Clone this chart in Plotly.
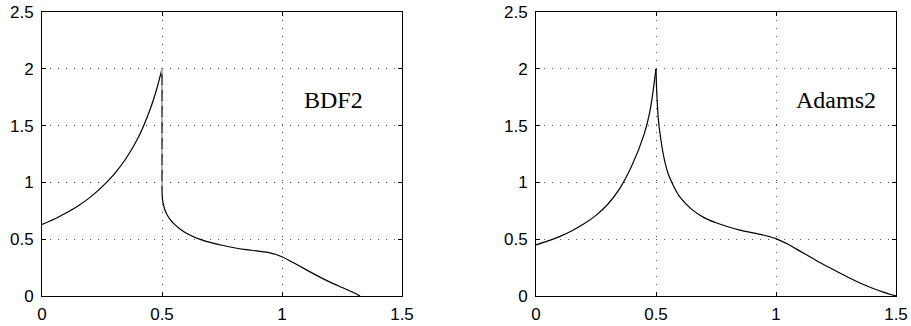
import plotly.graph_objects as go

# ---------------- data ----------------
x_tick_vals = [0, 0.5, 1, 1.5]
x_tick_text = ["0", "0.5", "1", "1.5"]
y_tick_vals = [0, 0.5, 1, 1.5, 2, 2.5]
y_tick_text = ["0", "0.5", "1", "1.5", "2", "2.5"]

panel_labels = ["BDF2", "Adams2"]
label_x = [1.215, 1.25]
label_y = [1.725, 1.725]

# BDF2 solution: branch left of the peak, vertical jump, branch right of it
bdf2_left_x = [0.0, 0.05, 0.1, 0.15, 0.2, 0.25, 0.3, 0.35, 0.4, 0.45, 0.475, 0.5]
bdf2_left_y = [0.63, 0.676, 0.73, 0.792, 0.868, 0.96, 1.07, 1.21, 1.39, 1.64, 1.80, 2.0]
bdf2_jump_x = [0.5, 0.5]
bdf2_jump_y = [2.0, 0.95]
bdf2_right_x = [0.5, 0.502, 0.51, 0.52, 0.535, 0.55, 0.575, 0.6, 0.65, 0.7, 0.75,
                0.8, 0.85, 0.9, 0.95, 0.975, 1.0, 1.05, 1.1, 1.15, 1.2, 1.25, 1.3,
                1.325]
bdf2_right_y = [0.95, 0.85, 0.77, 0.72, 0.67, 0.635, 0.59, 0.555, 0.505, 0.472, 0.447,
                0.425, 0.408, 0.395, 0.38, 0.365, 0.345, 0.29, 0.232, 0.175, 0.122,
                0.075, 0.028, 0.0]

# Adams2 solution
adams2_left_x = [0.0, 0.05, 0.1, 0.15, 0.2, 0.25, 0.3, 0.35, 0.4, 0.45, 0.475, 0.5]
adams2_left_y = [0.45, 0.485, 0.525, 0.575, 0.635, 0.71, 0.81, 0.95, 1.15, 1.42, 1.63, 2.0]
adams2_right_x = [0.5, 0.503, 0.51, 0.52, 0.535, 0.55, 0.575, 0.6, 0.65, 0.7, 0.75, 0.8,
                  0.85, 0.9, 0.95, 1.0, 1.05, 1.1, 1.15, 1.2, 1.25, 1.3, 1.35, 1.4,
                  1.45, 1.5]
adams2_right_y = [2.0, 1.8, 1.55, 1.38, 1.2, 1.08, 0.96, 0.87, 0.76, 0.69, 0.645, 0.61,
                  0.58, 0.558, 0.535, 0.505, 0.455, 0.395, 0.335, 0.275, 0.22, 0.165,
                  0.115, 0.07, 0.032, 0.0]

# ---------------- figure ----------------
fig = go.Figure()

line_style = dict(color="black", width=1.2, shape="spline", smoothing=0.8)


def curve(x, y, xa, ya):
    fig.add_trace(go.Scatter(x=x, y=y, mode="lines", line=line_style,
                             xaxis=xa, yaxis=ya, hoverinfo="skip"))


curve(bdf2_left_x, bdf2_left_y, "x", "y")
fig.add_trace(go.Scatter(x=bdf2_jump_x, y=bdf2_jump_y, mode="lines",
                         line=dict(color="black", width=1.2),
                         xaxis="x", yaxis="y", hoverinfo="skip"))
fig.add_trace(go.Scatter(x=bdf2_jump_x, y=bdf2_jump_y, mode="lines",
                         line=dict(color="#c8c8c8", width=1.6, dash="5px,11px"),
                         xaxis="x", yaxis="y", hoverinfo="skip"))
curve(bdf2_right_x, bdf2_right_y, "x", "y")
curve(adams2_left_x, adams2_left_y, "x2", "y2")
curve(adams2_right_x, adams2_right_y, "x2", "y2")

tick_font = dict(family="Liberation Sans, Arial, sans-serif", size=17, color="black")


def x_axis(domain, anchor):
    return dict(domain=domain, anchor=anchor, range=[0, 1.5], automargin=False,
                tickmode="array", tickvals=x_tick_vals, ticktext=x_tick_text,
                ticks="inside", ticklen=4, tickcolor="black", tickwidth=1,
                showline=True, linecolor="black", linewidth=1, mirror="ticks",
                showgrid=True, gridcolor="#555555", gridwidth=1, griddash="1px,7px",
                zeroline=False, tickfont=tick_font, ticklabelstandoff=3,
                fixedrange=True)


def y_axis(domain, anchor):
    return dict(domain=domain, anchor=anchor, range=[0, 2.5], automargin=False,
                tickmode="array", tickvals=y_tick_vals, ticktext=y_tick_text,
                ticks="inside", ticklen=4, tickcolor="black", tickwidth=1,
                showline=True, linecolor="black", linewidth=1, mirror="ticks",
                showgrid=True, gridcolor="#555555", gridwidth=1, griddash="1px,7px",
                zeroline=False, tickfont=tick_font, ticklabelstandoff=4,
                fixedrange=True)


ydom = [30 / 326, 314 / 326]
fig.update_layout(
    width=911, height=326,
    margin=dict(l=0, r=0, t=0, b=0, autoexpand=False),
    paper_bgcolor="white", plot_bgcolor="white",
    showlegend=False,
    xaxis=x_axis([42 / 911, 402 / 911], "y"),
    yaxis=y_axis(ydom, "x"),
    xaxis2=x_axis([536 / 911, 896 / 911], "y2"),
    yaxis2=y_axis(ydom, "x2"),
)

label_font = dict(family="Liberation Serif, Times New Roman, serif", size=24, color="black")
for i, (txt, lx, ly) in enumerate(zip(panel_labels, label_x, label_y)):
    suffix = "" if i == 0 else str(i + 1)
    fig.add_annotation(text=txt, x=lx, y=ly, xref="x" + suffix, yref="y" + suffix,
                       showarrow=False, font=label_font)

fig.write_html("out.html",
               config={"displayModeBar": False, "staticPlot": True},
               post_script="document.body.style.margin='0';"
                           "document.body.style.overflow='hidden';")
